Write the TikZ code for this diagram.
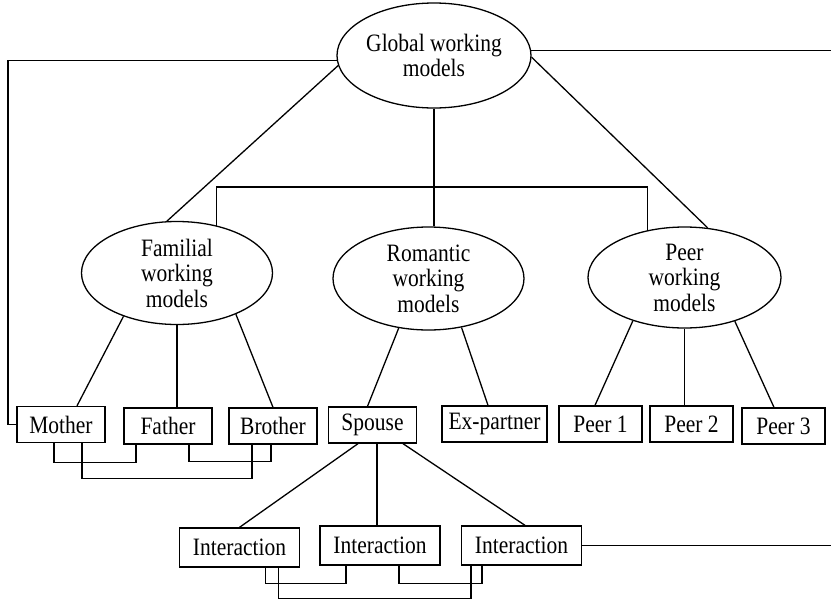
\documentclass[tikz,border=0pt]{standalone}
\usepackage{fontspec}
\setmainfont{Liberation Serif}[FakeStretch=0.86]
\usetikzlibrary{shapes.geometric,calc}
\begin{document}
\begin{tikzpicture}[x=1pt,y=-1pt,
  line width=1.3pt,
  every node/.style={font=\fontsize{25}{25.5}\selectfont},
  oval/.style={draw,ellipse,inner sep=-5pt,align=center},
  box/.style={draw,rectangle,inner sep=0pt,minimum height=36pt},
  ibox/.style={box,minimum width=120pt,minimum height=39pt}]
\useasboundingbox (0,0) rectangle (831,600);
% ellipses
\node[oval,minimum width=194pt,minimum height=105pt] (glob) at (434,55.5) {Global working\\models};
\node[oval,minimum width=191pt,minimum height=103pt] (fam) at (177,273) {Familial\\working\\models};
\node[oval,minimum width=191pt,minimum height=103pt] (rom) at (428.5,278.5) {Romantic\\working\\models};
\node[oval,minimum width=193pt,minimum height=101pt] (peer) at (684.5,277.5) {Peer\\working\\models};
% boxes
\node[box,minimum width=88pt] (mother) at (61,424.5) {Mother};
\node[box,minimum width=88pt] (father) at (168,426) {Father};
\node[box,minimum width=88pt] (brother) at (273,426) {Brother};
\node[box,minimum width=88pt] (spouse) at (372.5,425) {Spouse};
\node[box,minimum width=105pt] (expartner) at (494.5,424) {Ex-partner};
\node[box,minimum width=83pt] (peerone) at (600.5,424) {Peer 1};
\node[box,minimum width=83pt] (peertwo) at (691.5,424) {Peer 2};
\node[box,minimum width=83pt] (peerthree) at (783.5,426) {Peer 3};
\node[ibox] (intone) at (239.5,547.5) {Interaction};
\node[ibox] (inttwo) at (380,545.5) {Interaction};
\node[ibox] (intthree) at (521.5,545.5) {Interaction};
% helper coordinates
\coordinate (L) at (8,0);
\coordinate (R) at (831,0);
\coordinate (bar) at (433,187);
% global links
\draw (glob.183) -- (glob.183 -| L) |- (mother.west);
\draw (glob.3) -- (glob.3 -| R);
\draw (glob.186) -- (fam.101);
\draw (glob.-1) -- (peer.65);
\draw (glob.south) -- (glob.south |- rom.north);
\draw (fam.50) |- (bar) -| (peer.128);
% familial
\draw (fam.219) -- ($(mother.north)+(16,0)$);
\draw (fam.south) -- (fam.south |- father.north);
\draw (fam.-35) -- (brother.north);
% romantic
\draw (rom.239) -- ($(spouse.north)+(-5,0)$);
\draw (rom.-56) -- ($(expartner.north)+(-6.5,0)$);
% peer
\draw (peer.220) -- ($(peerone.north)+(-5.5,0)$);
\draw (peer.south) -- (peer.south |- peertwo.north);
\draw (peer.-41) -- ($(peerthree.north)+(-9.5,0)$);
% spouse to interactions
\draw ($(spouse.south)+(-14.5,0)$) -- (intone.north);
\draw ($(spouse.south)+(4.5,0)$) -- ($(inttwo.north)+(-3,0)$);
\draw ($(spouse.south)+(30.5,0)$) -- ($(intthree.north)+(3.5,0)$);
% family brackets
\draw ($(mother.south)+(-7,0)$) -- ++(0,19) -| ($(father.south)+(-32,0)$);
\draw ($(mother.south)+(21,0)$) -- ++(0,35) -| ($(brother.south)+(-21,0)$);
\draw ($(father.south)+(21,0)$) -- ++(0,17) -| ($(brother.south)+(-2,0)$);
% interaction brackets
\draw ($(intone.south)+(26,0)$) -- ++(0,16) -| ($(inttwo.south)+(-34,0)$);
\draw ($(intone.south)+(39,0)$) -- ++(0,31) -| ($(intthree.south)+(-50.5,0)$);
\draw ($(inttwo.south)+(19,0)$) -- ++(0,18) -| ($(intthree.south)+(-39.5,0)$);
% interaction to right edge
\draw (intthree.east) -- (intthree.east -| R);
\end{tikzpicture}
\end{document}
